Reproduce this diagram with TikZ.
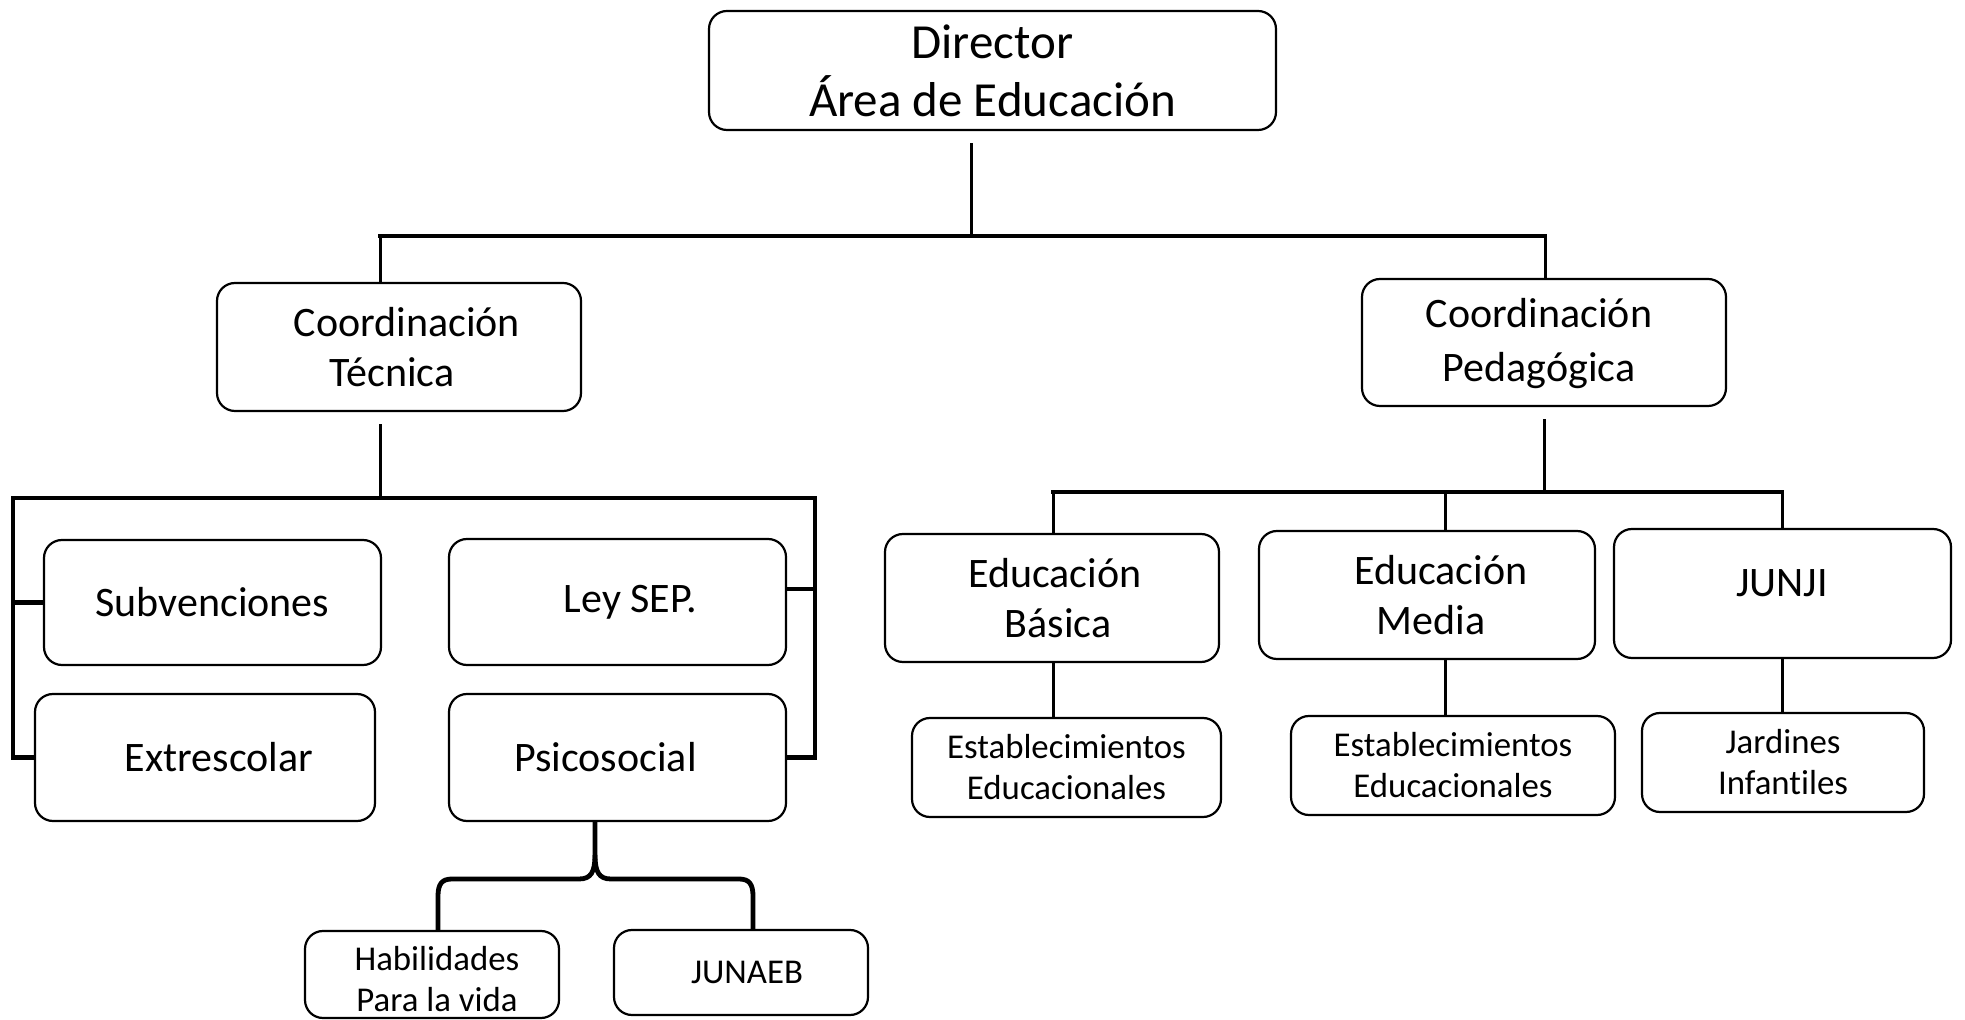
\documentclass[tikz,border=0pt]{standalone}
\usepackage{fontspec}
\setmainfont{Carlito}[Ligatures=NoCommon]
\usetikzlibrary{calc}
\tikzset{
  box/.style={draw=black, line width=1.1pt, rounded corners=9pt, inner sep=0pt, align=center, fill=white},
  big/.style={font=\fontsize{24.5}{29}\selectfont},
  mid/.style={font=\fontsize{21}{25}\selectfont},
  small/.style={font=\fontsize{17.4}{20.5}\selectfont},
  conn/.style={line width=1.5pt, line cap=rect},
  bar/.style={line width=2.4pt, line cap=rect, line join=miter},
}
\begin{document}
\begin{tikzpicture}[x=0.5pt, y=-0.5pt]
\useasboundingbox (0,0) rectangle (1965,1020);
\fill[white] (0,0) rectangle (1965,1020);
\clip (0,0) rectangle (1965,1020);

% boxes
\node[box, big, minimum width=283.5pt, minimum height=59.5pt] (dir) at (992.5,70.5) {Director\\Área de Educación};
\node[box, mid, minimum width=182pt, minimum height=64pt] (ct) at (399,347) {\hspace*{8pt}Coordinación\\Técnica\hspace*{7pt}};
\node[box, minimum width=182pt, minimum height=63.5pt] (cp) at (1544,342.5) {};
\node[mid, align=center, inner sep=0pt, font=\fontsize{21}{27}\selectfont] (cpt) at (1539,344) {Coordinación\\Pedagógica};

\node[box, mid, minimum width=168.5pt, minimum height=62.5pt] (subv) at (212.5,602.5) {Subvenciones};
\node[box, mid, minimum width=168.5pt, minimum height=63pt] (ley) at (617.5,602) {\hspace*{13pt}Ley SEP.};
\node[box, mid, minimum width=170pt, minimum height=63.5pt] (extr) at (205,757.5) {\hspace*{14pt}Extrescolar};
\node[box, mid, minimum width=168.5pt, minimum height=63.5pt] (psic) at (617.5,757.5) {Psicosocial\hspace*{12pt}};

\node[box, minimum width=127pt, minimum height=43.5pt] (hab) at (432,974.5) {};
\node[small, align=center, inner sep=0pt] (habt) at (437,979) {Habilidades\\Para la vida};
\node[box, small, minimum width=127pt, minimum height=42.5pt] (junaeb) at (741,972.5) {\hspace*{6pt}JUNAEB};

\node[box, mid, minimum width=167pt, minimum height=64pt] (eb) at (1052,598) {\hspace*{3pt}Educación\\\hspace*{6pt}Básica};
\node[box, mid, minimum width=168pt, minimum height=64pt] (em) at (1427,595) {\hspace*{14pt}Educación\\\hspace*{4pt}Media};
\node[box, minimum width=168.5pt, minimum height=64.5pt] (junji) at (1782.5,593.5) {};
\node[mid, inner sep=0pt] (junjit) at (1782,583) {JUNJI};

\node[box, small, minimum width=154.5pt, minimum height=49.5pt] (est1) at (1066.5,767.5) {Establecimientos\\Educacionales};
\node[box, small, minimum width=162pt, minimum height=49.5pt] (est2) at (1453,765.5) {Establecimientos\\Educacionales};
\node[box, small, minimum width=141pt, minimum height=49.5pt] (jard) at (1783,762.5) {Jardines\\Infantiles};

% coordinates of the connector bars
\coordinate (d1) at (971,236);
\coordinate (b1L) at (380,236);
\coordinate (b1R) at (1545,236);
\coordinate (b2) at (380,498);
\coordinate (bL) at (13,498);
\coordinate (bR) at (815,498);
\coordinate (b3) at (1544,492);
\coordinate (b3L) at (1053,492);
\coordinate (b3M) at (1445,492);
\coordinate (b3R) at (1782,492);
\coordinate (bt) at (595,855);
\coordinate (bl) at (438,879);
\coordinate (br) at (753,879);

% top level
\draw[conn] ([yshift=-6.5pt]dir.south -| d1) -- (d1);
\draw[bar] (b1L) -- (b1R);
\draw[conn] (b1L) -- (b1L |- ct.north);
\draw[conn] (b1R) -- (b1R |- cp.north);

% Coordinacion Tecnica branch
\draw[conn] ([yshift=-6.5pt]ct.south -| b2) -- (b2);
\draw[bar] (extr.west) -| (bL) -- (bR) |- (psic.east);
\draw[bar] (subv.west) -- (subv.west -| bL);
\draw[bar] ([yshift=6.5pt]ley.east) -- ([yshift=6.5pt]ley.east -| bR);

% Psicosocial brace
\draw[bar, line cap=butt] (psic.south -| bt) -- (bt)
  .. controls (595,872) and (591,879) .. (579,879) -- (452,879)
  .. controls (442,879) and (438,884) .. (438,896) -- (bl |- hab.north);
\draw[bar, line cap=butt] (bt)
  .. controls (595,872) and (599,879) .. (611,879) -- (739,879)
  .. controls (749,879) and (753,884) .. (753,896) -- (br |- junaeb.north);

% Coordinacion Pedagogica branch
\draw[conn] ([yshift=-6.5pt]cp.south -| b3) -- (b3);
\draw[bar] (b3L) -- (b3R);
\draw[conn] (b3L) -- (b3L |- eb.north);
\draw[conn] (b3M) -- (b3M |- em.north);
\draw[conn] (b3R) -- (b3R |- junji.north);
\draw[conn] (eb.south -| b3L) -- (b3L |- est1.north);
\draw[conn] (em.south -| b3M) -- (b3M |- est2.north);
\draw[conn] (junji.south -| b3R) -- (b3R |- jard.north);
\end{tikzpicture}
\end{document}
